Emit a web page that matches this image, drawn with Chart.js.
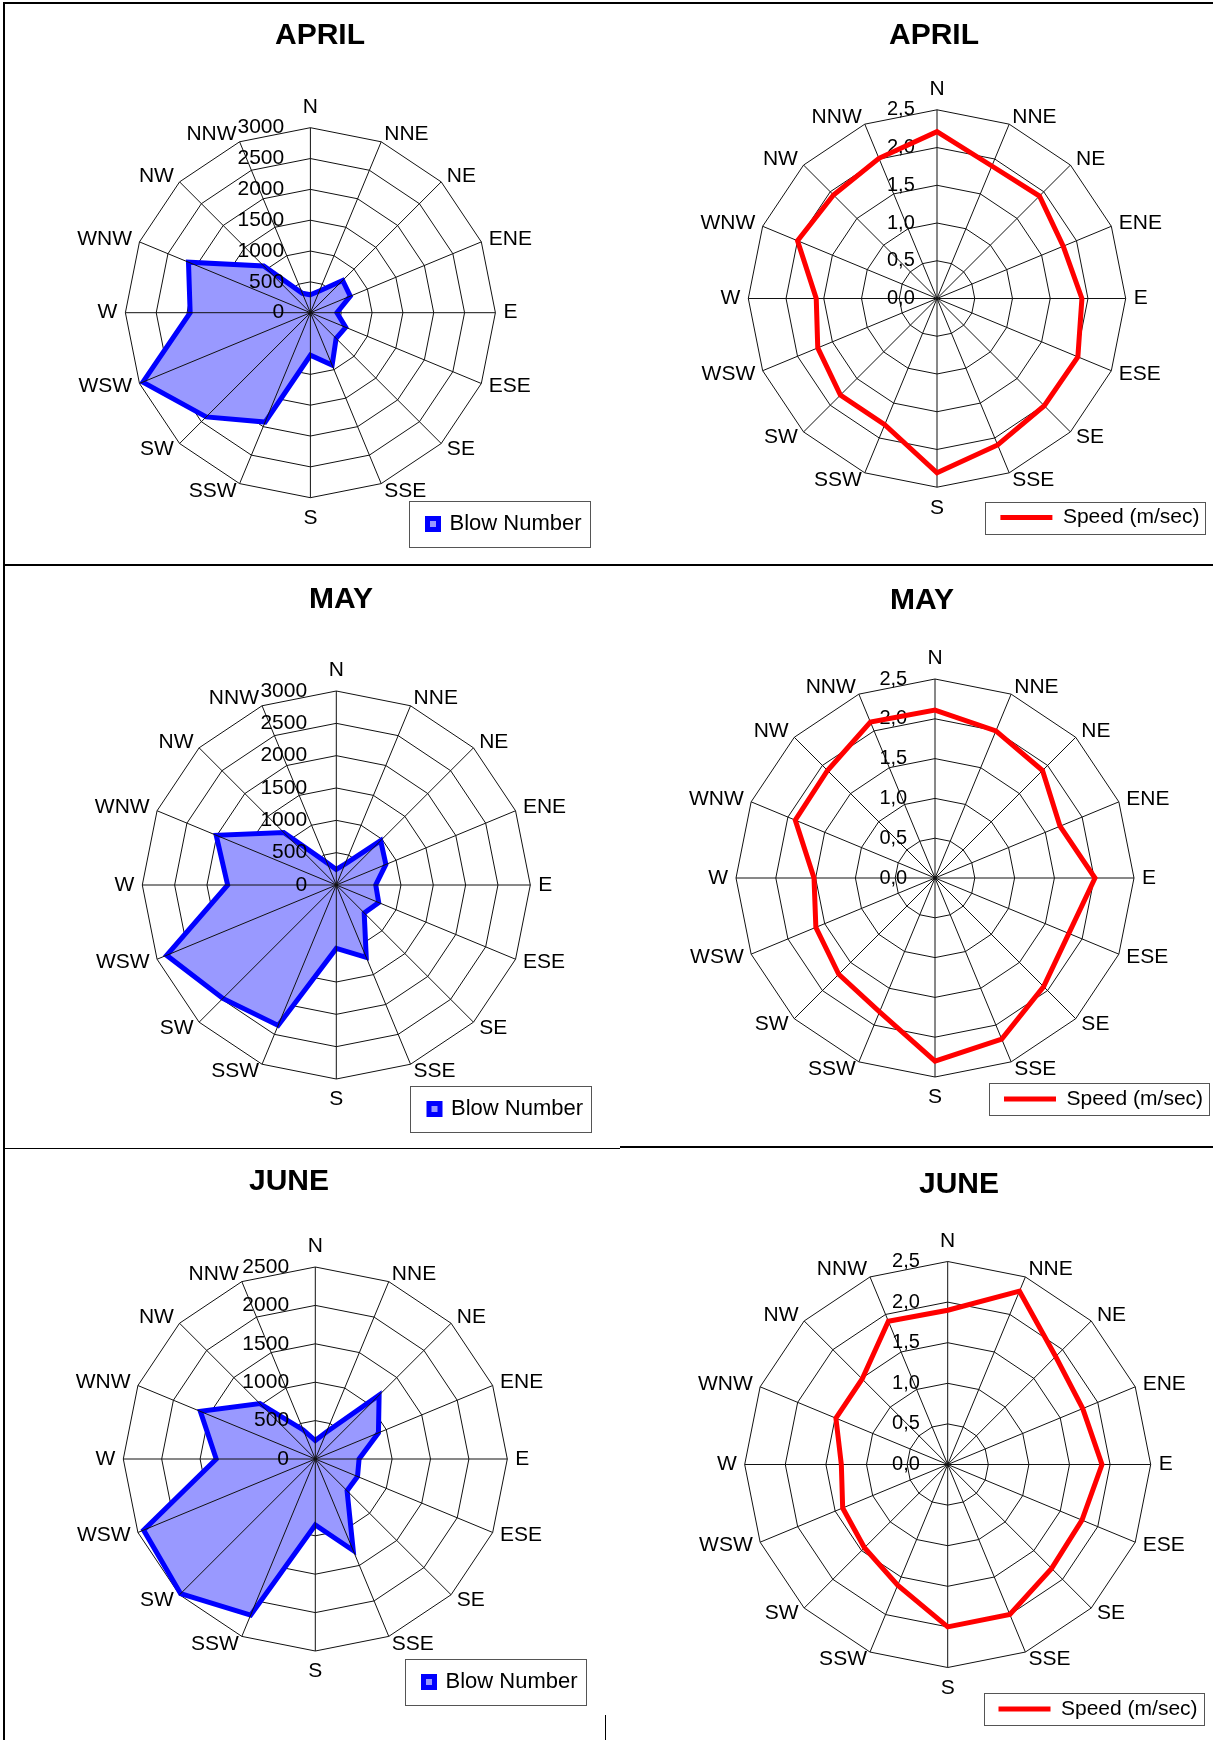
<!DOCTYPE html>
<html>
<head>
<meta charset="utf-8">
<script src="https://cdn.jsdelivr.net/npm/chart.js@4.4.1/dist/chart.umd.min.js"></script>
<style>
html,body{margin:0;padding:0;background:#fff;}
body{width:1213px;height:1740px;position:relative;overflow:hidden;font-family:"Liberation Sans",Arial,sans-serif;}
canvas{position:absolute;}
.ln{position:absolute;background:#000;}
</style>
</head>
<body>
<div class="ln" style="left:3px;top:2px;width:1210px;height:2px"></div>
<div class="ln" style="left:3px;top:2px;width:2px;height:1738px"></div>
<div class="ln" style="left:3px;top:564px;width:1210px;height:2px"></div>
<div class="ln" style="left:3px;top:1148px;width:617px;height:1px"></div>
<div class="ln" style="left:620px;top:1146px;width:593px;height:2px"></div>
<div class="ln" style="left:605px;top:1715px;width:1px;height:25px"></div>
<canvas id="c0"></canvas>
<canvas id="c1"></canvas>
<canvas id="c2"></canvas>
<canvas id="c3"></canvas>
<canvas id="c4"></canvas>
<canvas id="c5"></canvas>
<script>
// ---------------- data ----------------
const directions = ['N','NNE','NE','ENE','E','ESE','SE','SSE','S','SSW','SW','WSW','W','WNW','NW','NNW'];
const months = ['APRIL','MAY','JUNE'];
const blowLabel = 'Blow Number';
const speedLabel = 'Speed (m/sec)';

const blowApril = [290, 380, 740, 700, 430, 620, 590, 920, 690, 1920, 2390, 2940, 1950, 2140, 1070, 340];
const blowMay   = [240, 350, 970, 830, 610, 710, 610, 1210, 980, 2350, 2480, 2840, 1680, 2010, 1150, 370];
const blowJune  = [240, 380, 1175, 890, 570, 595, 585, 1290, 860, 2200, 2480, 2420, 1290, 1620, 1020, 410];

const speedApril = [2.21, 1.90, 1.92, 1.81, 1.92, 2.02, 2.01, 2.10, 2.31, 1.81, 1.81, 1.71, 1.60, 2.00, 1.94, 2.01];
const speedMay   = [2.11, 2.00, 1.91, 1.70, 2.01, 1.82, 1.93, 2.19, 2.30, 1.82, 1.71, 1.62, 1.52, 1.90, 1.91, 2.12];
const speedJune  = [1.90, 2.31, 1.88, 1.80, 1.90, 1.79, 1.81, 2.00, 2.00, 1.61, 1.45, 1.40, 1.31, 1.49, 1.49, 1.91];

const blowTicks3000 = [0, 500, 1000, 1500, 2000, 2500, 3000];
const blowTicks2500 = [0, 500, 1000, 1500, 2000, 2500];
const speedTicks = [0, 0.5, 1.0, 1.5, 2.0, 2.5];

// ---------------- panels (which data goes where) ----------------
const panels = [
  {kind:'blow',  month:months[0], values:blowApril,  ticks:blowTicks3000},
  {kind:'speed', month:months[0], values:speedApril, ticks:speedTicks},
  {kind:'blow',  month:months[1], values:blowMay,    ticks:blowTicks3000},
  {kind:'speed', month:months[1], values:speedMay,   ticks:speedTicks},
  {kind:'blow',  month:months[2], values:blowJune,   ticks:blowTicks2500},
  {kind:'speed', month:months[2], values:speedJune,  ticks:speedTicks}
];

// ---------------- layout (page pixels) ----------------
const layoutCfg = [
  {canvas:[6,5,598,558],     center:[310.4,312.7],  radius:185,   title:[320,36],    legend:[427.5,524],  tickGap:26},
  {canvas:[608,5,605,558],   center:[937,298.5],    radius:188.7, title:[934,36],    legend:[1000.4,517.5], tickGap:23},
  {canvas:[6,568,598,578],   center:[336.3,885],    radius:194,   title:[341,599.5], legend:[429,1109],   tickGap:28},
  {canvas:[608,568,605,578], center:[935,878],      radius:199,   title:[922,600.6], legend:[1004,1099],  tickGap:28},
  {canvas:[6,1152,598,588],  center:[315.3,1459],   radius:192,   title:[289,1182],  legend:[423.5,1682], tickGap:25.5},
  {canvas:[608,1152,605,588],center:[947.7,1464.5], radius:203,   title:[959,1185],  legend:[998.5,1709], tickGap:27}
];

const FAMILY = '"Liberation Sans", Arial, Helvetica, sans-serif';
Chart.defaults.font.family = FAMILY;
Chart.defaults.color = '#000';

const mctx = document.createElement('canvas').getContext('2d');
function textW(t, size, weight) {
  mctx.font = (weight || 'normal') + ' ' + size + 'px ' + FAMILY;
  return mctx.measureText(t).width;
}

function placeRadar(target, centerLabels) {
  return function(scale) {
    const ox = scale.xCenter, oy = scale.yCenter, orad = scale.drawingArea;
    scale.xCenter = target.cx;
    scale.yCenter = target.cy;
    scale.drawingArea = target.r;
    const items = scale._pointLabelItems;
    if (!items || !items.length) return;
    const dR = target.r - orad;
    const n = items.length;
    items.forEach((it, i) => {
      const a = scale.getIndexAngle(i) - Math.PI / 2;
      const sx = target.cx - ox + dR * Math.cos(a);
      let sy = target.cy - oy + dR * Math.sin(a);
      const deg = Math.round(i * 360 / n);
      const h = it.bottom - it.top;
      if (centerLabels && deg !== 0 && deg !== 180 && deg !== 90 && deg !== 270) {
        sy += (deg < 90 || deg > 270) ? h / 2 : -h / 2;
      }
      it.x += sx; it.left += sx; it.right += sx;
      it.y += sy; it.top += sy; it.bottom += sy;
    });
  };
}

// the fill must not be clipped to the (small) layout chart area
const fullArea = {
  id: 'fullArea',
  afterLayout(chart) {
    const a = chart.chartArea;
    a.left = 0; a.top = 0; a.right = chart.width; a.bottom = chart.height;
    a.width = chart.width; a.height = chart.height;
  }
};

const legendFrame = {
  id: 'legendFrame',
  afterDraw(chart, args, opts) {
    const lg = chart.legend;
    if (!lg || !lg.legendHitBoxes || !lg.legendHitBoxes[0]) return;
    const hb = lg.legendHitBoxes[0];
    const cy = hb.top + hb.height / 2;
    const ctx = chart.ctx;
    ctx.save();
    ctx.strokeStyle = opts.color || '#555';
    ctx.lineWidth = 1;
    const x0 = Math.round(hb.left - opts.left) + 0.5;
    const y0 = Math.round(cy - opts.halfH) + 0.5;
    const x1 = Math.round(hb.left + hb.width + opts.right) + 0.5;
    const y1 = Math.round(cy + opts.halfH) + 0.5;
    ctx.strokeRect(x0, y0, x1 - x0, y1 - y0);
    ctx.restore();
  }
};

panels.forEach((p, idx) => {
  const L = layoutCfg[idx];
  const [cl, ct, cw, ch] = L.canvas;
  const cv = document.getElementById('c' + idx);
  cv.width = cw; cv.height = ch;
  cv.style.left = cl + 'px'; cv.style.top = ct + 'px';
  cv.style.width = cw + 'px'; cv.style.height = ch + 'px';

  const isBlow = p.kind === 'blow';
  const tickSize = isBlow ? 21 : 20;
  const legSize = isBlow ? 22 : 21;
  const label = isBlow ? blowLabel : speedLabel;
  const boxW = isBlow ? 11 : 52;
  const itemW = boxW + legSize / 2 + textW(label, legSize);
  const itemH = legSize;

  const titleW = textW(p.month, 30, 'bold');
  const padL = L.title[0] - titleW / 2 - cl;
  const padT = L.title[1] - ct - 10 - 18;
  const padR = (cl + cw) - 10 - (L.legend[0] + itemW);
  const padB = ch - 10 - itemH / 2 - (L.legend[1] - ct);

  const tmax = p.ticks[p.ticks.length - 1];
  const lo = -tmax * 1e-6;
  const step = p.ticks[1] - p.ticks[0];
  const target = {cx: L.center[0] - cl, cy: L.center[1] - ct, r: L.radius};
  const setTicks = (scale) => { scale.ticks = p.ticks.map(v => ({value: v})); };
  const fmt = (v) => isBlow ? String(Math.round(v)) : Number(v).toFixed(1).replace('.', ',');
  const spW = textW(' ', tickSize);
  const tickCb = (v) => {
    const s = fmt(v);
    const w = textW(s, tickSize);
    const n = Math.max(0, Math.round((w + 2 * L.tickGap) / spW));
    return s + ' '.repeat(n);
  };

  const dataset = isBlow ? {
    label: label,
    data: p.values,
    rAxisID: 'r',
    borderColor: '#0000FF',
    backgroundColor: '#9999FF',
    borderWidth: 5,
    fill: true,
    clip: false,
    pointRadius: 0,
    pointHoverRadius: 0,
    tension: 0,
    borderJoinStyle: 'miter'
  } : {
    label: label,
    data: p.values,
    rAxisID: 'r',
    borderColor: '#FF0000',
    backgroundColor: '#FF0000',
    borderWidth: 5,
    fill: false,
    clip: false,
    pointRadius: 0,
    pointHoverRadius: 0,
    tension: 0,
    borderJoinStyle: 'miter'
  };

  const legendLabels = isBlow ? {
    boxWidth: 11, boxHeight: 11, padding: 10, color: '#000',
    font: {size: legSize, family: FAMILY}
  } : {
    usePointStyle: true, pointStyle: 'line', pointStyleWidth: 52, padding: 10, color: '#000',
    font: {size: legSize, family: FAMILY}
  };

  new Chart(cv, {
    type: 'radar',
    data: {labels: directions, datasets: [dataset]},
    options: {
      responsive: false,
      maintainAspectRatio: false,
      animation: false,
      events: [],
      layout: {padding: {left: padL, right: padR, top: padT, bottom: padB}},
      plugins: {
        title: {display: true, text: p.month, align: 'start', color: '#000',
                font: {size: 30, weight: 'bold', family: FAMILY, lineHeight: 1.2},
                padding: {top: 10, bottom: 10}},
        legend: {display: true, position: 'bottom', align: 'end', labels: legendLabels},
        tooltip: {enabled: false},
        legendFrame: isBlow ? {left: 19, right: 8, halfH: 23, color: '#555'}
                            : {left: 15, right: 6, halfH: 16, color: '#555'}
      },
      scales: {
        r: {
          type: 'radialLinear',
          min: lo, max: tmax,
          afterBuildTicks: setTicks,
          afterFit: placeRadar(target, true),
          grid: {display: true, color: '#111', lineWidth: 1, circular: false},
          angleLines: {display: false},
          ticks: {display: false, stepSize: step},
          pointLabels: {display: true, color: '#000', padding: 8, font: {size: 21, family: FAMILY}}
        },
        r2: {
          type: 'radialLinear',
          axis: 'r',
          min: lo, max: tmax,
          afterBuildTicks: setTicks,
          afterFit: placeRadar(target, false),
          grid: {display: false, z: isBlow ? 1 : -1},
          angleLines: {display: true, color: '#111', lineWidth: 1},
          pointLabels: {display: false},
          ticks: {display: true, z: isBlow ? 1 : 0, stepSize: step, showLabelBackdrop: false,
                  color: '#000', font: {size: tickSize, family: FAMILY}, callback: tickCb}
        }
      }
    },
    plugins: [fullArea, legendFrame]
  });
});
</script>
</body>
</html>
